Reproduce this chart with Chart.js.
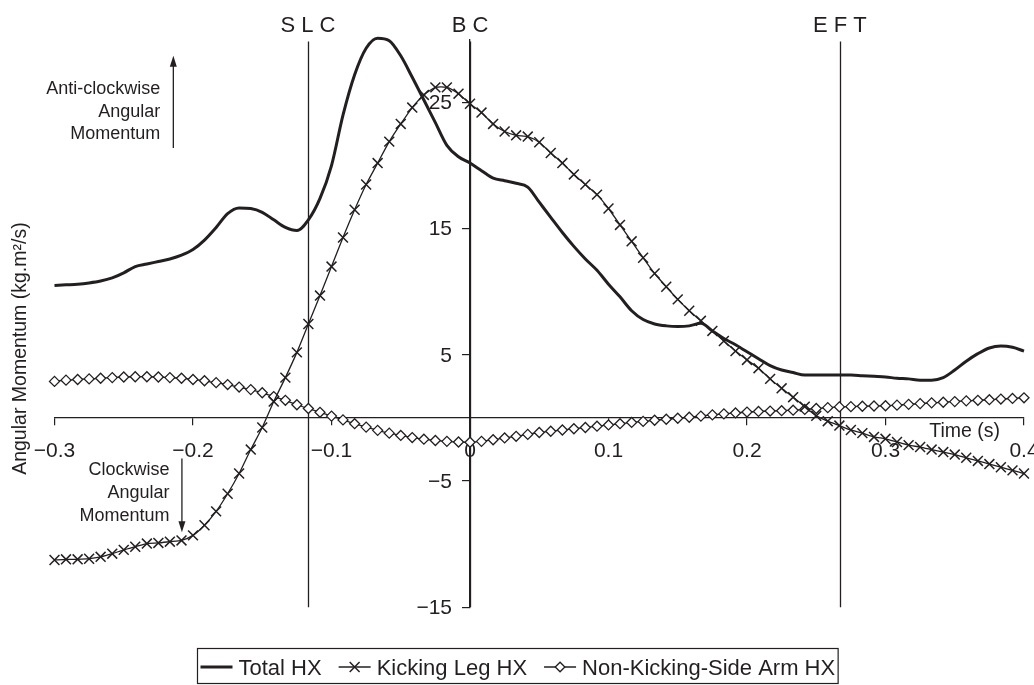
<!DOCTYPE html>
<html>
<head>
<meta charset="utf-8">
<title>Angular momentum</title>
<script src="https://cdn.jsdelivr.net/npm/chart.js@4.4.1/dist/chart.umd.min.js"></script>
<style>
  html, body { margin: 0; padding: 0; background: #fff; }
  canvas { display: block; }
</style>
</head>
<body>
<canvas id="momentumChart" width="1034" height="685"></canvas>
<script>
// frames at 120 Hz, time in seconds relative to ball contact
const time = [
  -0.3, -0.2917, -0.2833, -0.275, -0.2667, -0.2583, -0.25, -0.2417, -0.2333, -0.225, -0.2167, -0.2083,
  -0.2, -0.1917, -0.1833, -0.175, -0.1667, -0.1583, -0.15, -0.1417, -0.1333, -0.125, -0.1167, -0.1083,
  -0.1, -0.0917, -0.0833, -0.075, -0.0667, -0.0583, -0.05, -0.0417, -0.0333, -0.025, -0.0167, -0.0083,
  0, 0.0083, 0.0167, 0.025, 0.0333, 0.0417, 0.05, 0.0583, 0.0667, 0.075, 0.0833, 0.0917,
  0.1, 0.1083, 0.1167, 0.125, 0.1333, 0.1417, 0.15, 0.1583, 0.1667, 0.175, 0.1833, 0.1917,
  0.2, 0.2083, 0.2167, 0.225, 0.2333, 0.2417, 0.25, 0.2583, 0.2667, 0.275, 0.2833, 0.2917,
  0.3, 0.3083, 0.3167, 0.325, 0.3333, 0.3417, 0.35, 0.3583, 0.3667, 0.375, 0.3833, 0.3917, 0.4
];

const totalHX = [
  10.5, 10.55, 10.6, 10.7, 10.85, 11.1, 11.5, 12.0, 12.2, 12.4, 12.6, 12.9,
  13.35, 14.1, 15.1, 16.2, 16.65, 16.6, 16.3, 15.7, 15.1, 14.85, 15.7, 17.4,
  20.0, 24.0, 27.2, 29.3, 30.1, 29.9, 28.7, 27.0, 25.2, 23.4, 21.6, 20.7,
  20.2, 19.6, 19.0, 18.8, 18.6, 18.3, 17.1, 15.9, 14.7, 13.6, 12.6, 11.7,
  10.6, 9.6, 8.5, 7.8, 7.45, 7.3, 7.25, 7.3, 7.5, 6.9, 6.3, 5.8,
  5.25, 4.7, 4.15, 3.8, 3.6, 3.4, 3.4, 3.4, 3.4, 3.4, 3.35, 3.3,
  3.25, 3.15, 3.1, 3.0, 3.0, 3.2, 3.8, 4.5, 5.1, 5.55, 5.7, 5.6, 5.3
];

const kickingLegHX = [
  -11.25, -11.2, -11.2, -11.15, -11.0, -10.75, -10.45, -10.2, -9.95, -9.9, -9.8, -9.7,
  -9.3, -8.5, -7.4, -6.0, -4.4, -2.5, -0.75, 1.3, 3.2, 5.2, 7.45, 9.7,
  12.0, 14.3, 16.5, 18.5, 20.2, 21.9, 23.3, 24.6, 25.6, 26.2, 26.2, 25.7,
  24.9, 24.2, 23.3, 22.7, 22.4, 22.3, 21.85, 21.0, 20.2, 19.3, 18.5, 17.7,
  16.6, 15.3, 14.0, 12.7, 11.45, 10.4, 9.4, 8.5, 7.7, 6.9, 6.1, 5.3,
  4.6, 3.95, 3.1, 2.35, 1.65, 0.9, 0.17, -0.25, -0.6, -0.95, -1.2, -1.5,
  -1.65, -1.9, -2.15, -2.3, -2.5, -2.7, -2.9, -3.15, -3.4, -3.65, -3.9, -4.15, -4.4
];

const armHX = [
  2.9, 3.0, 3.05, 3.1, 3.15, 3.2, 3.25, 3.27, 3.27, 3.25, 3.2, 3.15,
  3.05, 2.95, 2.8, 2.65, 2.45, 2.25, 2.0, 1.7, 1.4, 1.05, 0.75, 0.45,
  0.15, -0.15, -0.45, -0.72, -0.98, -1.2, -1.38, -1.55, -1.68, -1.78, -1.85, -1.9,
  -1.92, -1.85, -1.72, -1.58, -1.45, -1.3, -1.15, -1.05, -0.95, -0.85, -0.75, -0.65,
  -0.55, -0.45, -0.35, -0.27, -0.18, -0.1, -0.02, 0.06, 0.15, 0.25, 0.33, 0.4,
  0.47, 0.52, 0.55, 0.58, 0.62, 0.68, 0.75, 0.82, 0.88, 0.9, 0.93, 0.95,
  0.97, 1.02, 1.08, 1.14, 1.2, 1.25, 1.3, 1.36, 1.4, 1.45, 1.5, 1.55, 1.6
];

const xTicks = [-0.3, -0.2, -0.1, 0, 0.1, 0.2, 0.3, 0.4];
const yTicks = [-15, -5, 5, 15, 25];
const events = [
  { label: 'S L C', t: -0.117 },
  { label: 'B C', t: 0 },
  { label: 'E F T', t: 0.267 }
];
const seriesNames = ['Total HX', 'Kicking Leg HX', 'Non-Kicking-Side Arm HX'];

const ink = '#231f20';
const family = "'Liberation Sans', Arial, Helvetica, sans-serif";

function toPoints(values) {
  return time.map((t, i) => ({ x: t, y: values[i] }));
}

function signed(v, digits) {
  if (Math.abs(v) < 1e-9) return '0';
  const s = digits ? Math.abs(v).toFixed(digits) : String(Math.abs(v));
  return v < 0 ? '\u2212' + s : s;
}

function arrow(ctx, x, yFrom, yTip) {
  const dir = Math.sign(yTip - yFrom);
  ctx.beginPath();
  ctx.moveTo(x, yFrom);
  ctx.lineTo(x, yTip - dir * 8);
  ctx.stroke();
  ctx.beginPath();
  ctx.moveTo(x, yTip);
  ctx.lineTo(x - 3.5, yTip - dir * 11);
  ctx.lineTo(x + 3.5, yTip - dir * 11);
  ctx.closePath();
  ctx.fill();
}

const decorations = {
  id: 'decorations',
  beforeDatasetsDraw(chart) {
    const { ctx, chartArea, scales: { x } } = chart;
    ctx.save();
    ctx.strokeStyle = ink;
    ctx.lineWidth = 1.3;
    events.forEach(ev => {
      const px = Math.round(x.getPixelForValue(ev.t)) + 0.5;
      ctx.beginPath();
      ctx.moveTo(px, chartArea.top + 2);
      ctx.lineTo(px, chartArea.bottom);
      ctx.stroke();
    });
    ctx.restore();
  },
  afterDraw(chart) {
    const { ctx, chartArea, scales: { x, y } } = chart;
    ctx.save();
    ctx.fillStyle = ink;
    ctx.strokeStyle = ink;

    // y tick labels, left of the centred axis
    ctx.font = '21px ' + family;
    ctx.textAlign = 'right';
    ctx.textBaseline = 'middle';
    const axisX = x.getPixelForValue(0);
    yTicks.forEach(v => {
      ctx.fillText(signed(v, 0), axisX - 18, y.getPixelForValue(v) + 1);
    });

    ctx.textBaseline = 'alphabetic';

    // event labels above the vertical lines
    ctx.font = '22px ' + family;
    ctx.textAlign = 'center';
    events.forEach(ev => {
      ctx.fillText(ev.label, x.getPixelForValue(ev.t), 32);
    });

    // direction notes on the left
    ctx.font = '18px ' + family;
    ctx.textAlign = 'right';
    const upX = x.getPixelForValue(-0.2142);
    ['Anti-clockwise', 'Angular', 'Momentum'].forEach((s, i) => {
      ctx.fillText(s, upX - 13, 94 + i * 22.7);
    });
    ctx.lineWidth = 1.3;
    arrow(ctx, upX, y.getPixelForValue(21.4), y.getPixelForValue(28.7));

    const downX = x.getPixelForValue(-0.208);
    ['Clockwise', 'Angular', 'Momentum'].forEach((s, i) => {
      ctx.fillText(s, downX - 12.5, 475 + i * 22.8);
    });
    arrow(ctx, downX, y.getPixelForValue(-3.2), y.getPixelForValue(-9.05));

    // axis titles
    ctx.font = '19.5px ' + family;
    ctx.textAlign = 'right';
    ctx.fillText('Time (s)', x.getPixelForValue(0.4) - 24, y.getPixelForValue(0) + 19);

    ctx.save();
    ctx.translate(26, y.getPixelForValue(5.5));
    ctx.rotate(-Math.PI / 2);
    ctx.textAlign = 'center';
    ctx.fillText('Angular Momentum (kg.m\u00b2/s)', 0, 0);
    ctx.restore();

    // legend box
    ctx.font = '22px ' + family;
    ctx.textAlign = 'left';
    const sample = 32, gapText = 6, gapItem = 17, pad = 3;
    let width = pad;
    seriesNames.forEach((n, i) => {
      width += sample + gapText + ctx.measureText(n).width + (i < seriesNames.length - 1 ? gapItem : 0);
    });
    width += pad;
    const boxLeft = Math.round((chartArea.left + chartArea.right) / 2 - width / 2 - 22) + 0.5;
    const boxTop = 648.5, boxBottom = 683.5, rowY = 667;
    ctx.lineWidth = 1.2;
    ctx.strokeRect(boxLeft, boxTop, width, boxBottom - boxTop);

    let cx = boxLeft + pad;
    const drawPoint = Chart.helpers.drawPoint;
    seriesNames.forEach((n, i) => {
      ctx.lineWidth = i === 0 ? 3 : 1.3;
      ctx.beginPath();
      ctx.moveTo(cx, rowY);
      ctx.lineTo(cx + sample, rowY);
      ctx.stroke();
      if (i === 1) {
        ctx.lineWidth = 1.5;
        drawPoint(ctx, { pointStyle: 'crossRot', radius: 7, borderWidth: 1.5 }, cx + sample / 2, rowY);
      } else if (i === 2) {
        ctx.fillStyle = '#fff';
        ctx.lineWidth = 1.3;
        drawPoint(ctx, { pointStyle: 'rectRot', radius: 4.8, borderWidth: 1.3 }, cx + sample / 2, rowY);
        ctx.fillStyle = ink;
      }
      cx += sample + gapText;
      ctx.fillText(n, cx, rowY + 8);
      cx += ctx.measureText(n).width + gapItem;
    });

    ctx.restore();
  }
};

const ctx = document.getElementById('momentumChart').getContext('2d');

const chart = new Chart(ctx, {
  type: 'line',
  data: {
    datasets: [
      {
        label: seriesNames[0],
        data: toPoints(totalHX),
        borderColor: ink,
        borderWidth: 3,
        pointRadius: 0,
        cubicInterpolationMode: 'monotone',
        clip: false
      },
      {
        label: seriesNames[1],
        data: toPoints(kickingLegHX),
        borderColor: ink,
        borderWidth: 1.3,
        tension: 0.2,
        pointStyle: 'crossRot',
        pointRadius: 7,
        pointBorderWidth: 1.5,
        pointBorderColor: ink,
        clip: false
      },
      {
        label: seriesNames[2],
        data: toPoints(armHX),
        borderColor: ink,
        borderWidth: 1.3,
        tension: 0.2,
        pointStyle: 'rectRot',
        pointRadius: 5,
        pointBorderWidth: 1.3,
        pointBorderColor: ink,
        pointBackgroundColor: '#fff',
        clip: false
      }
    ]
  },
  options: {
    responsive: false,
    animation: false,
    events: [],
    devicePixelRatio: 1,
    layout: { padding: { left: 54.5, top: 39.4, right: 10, bottom: 77.7 } },
    plugins: { legend: { display: false }, tooltip: { enabled: false } },
    scales: {
      x: {
        type: 'linear',
        min: -0.3,
        max: 0.4,
        position: { y: 0 },
        afterBuildTicks: s => { s.ticks = xTicks.map(v => ({ value: v })); },
        afterFit: s => { s.height = 0; s.paddingLeft = 0; s.paddingRight = 0; },
        grid: { drawOnChartArea: false, drawTicks: true, tickLength: 7, color: ink, lineWidth: 1.2 },
        border: { display: true, color: ink, width: 1.3 },
        ticks: {
          color: ink,
          font: { size: 21, family: family },
          padding: 14,
          maxRotation: 0,
          autoSkip: false,
          callback: v => signed(v, 1)
        }
      },
      y: {
        type: 'linear',
        min: -15,
        max: 30,
        position: { x: 0 },
        afterBuildTicks: s => { s.ticks = yTicks.map(v => ({ value: v })); },
        afterFit: s => { s.width = 0; s.paddingTop = 0; s.paddingBottom = 0; },
        grid: { drawOnChartArea: false, drawTicks: true, tickLength: 7, color: ink, lineWidth: 1.2 },
        border: { display: true, color: ink, width: 1.3 },
        ticks: { display: false }
      }
    }
  },
  plugins: [decorations]
});
</script>
</body>
</html>
